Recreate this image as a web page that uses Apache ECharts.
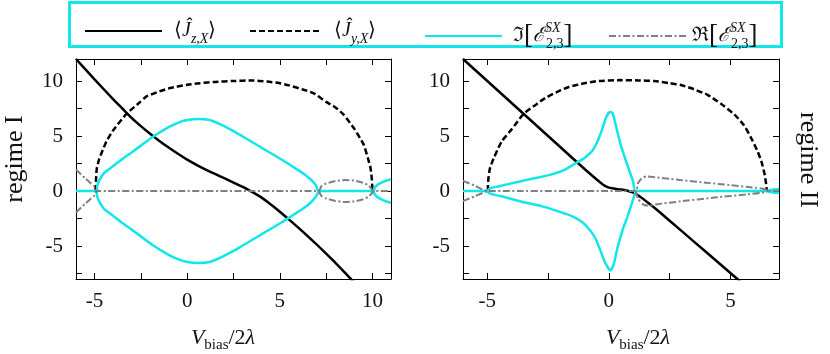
<!DOCTYPE html>
<html>
<head>
<meta charset="utf-8">
<script src="https://cdn.jsdelivr.net/npm/echarts@6/dist/echarts.min.js"></script>
<style>
  html, body { margin: 0; padding: 0; background: #fff; }
  #chart { width: 830px; height: 354px; }
</style>
</head>
<body>
<div id="chart"></div>
<script>
// tick marks and labels
const xTicksLeft = [-5, -2.5, 0, 2.5, 5, 7.5, 10]
const xLabelsLeft = [-5, 0, 5, 10]
const xTicksRight = [-5, -2.5, 0, 2.5, 5]
const xLabelsRight = [-5, 0, 5]
const yTicks = [-7.5, -5, -2.5, 0, 2.5, 5, 7.5, 10]
const yLabels = [-5, 0, 5, 10]

// regime I (left panel)
const jzLeft = [[-6, 12], [-5, 10.15], [-4, 8.35], [-3.5, 7.5], [-3, 6.65], [-2.5, 5.9], [-2, 5.2], [-1.5, 4.55], [-1, 3.95], [-0.5, 3.38], [0, 2.85], [0.5, 2.38], [1, 1.95], [1.5, 1.55], [2, 1.17], [2.5, 0.77], [3, 0.37], [3.5, -0.08], [4, -0.58], [4.5, -1.2], [5, -1.88], [5.5, -2.6], [6, -3.33], [6.5, -4.1], [7, -4.88], [7.5, -5.7], [8, -6.53], [8.5, -7.4], [9, -8.28]]
const jyLeft = [[-4.95, 0], [-4.92, 1.0], [-4.88, 2.0], [-4.75, 2.9], [-4.5, 3.95], [-4.36, 4.5], [-4, 5.5], [-3.28, 7.0], [-2.6, 8.0], [-2.19, 8.6], [-1.5, 9.05], [-0.92, 9.36], [0, 9.65], [0.7, 9.8], [1.5, 9.92], [2.5, 10.0], [3.5, 10.05], [4.3, 9.95], [5, 9.8], [5.5, 9.6], [6.2, 9.25], [6.81, 8.9], [7.5, 8.1], [8, 7.6], [8.44, 6.95], [9, 5.7], [9.52, 4.24], [9.75, 3.0], [9.89, 2.14], [9.97, 1.0], [10, 0]]
const imLeftUp = [[-6, 0], [-4.9, 0], [-4.85, 0.5], [-4.75, 0.95], [-4.5, 1.6], [-4.2, 2.0], [-3.5, 2.9], [-3, 3.5], [-2.4, 4.25], [-1.83, 4.95], [-1, 5.8], [-0.5, 6.2], [0, 6.45], [0.6, 6.55], [1.2, 6.45], [1.8, 6.05], [2.5, 5.45], [3, 4.95], [4, 3.95], [5, 2.95], [5.8, 2.1], [6.3, 1.55], [6.7, 1.0], [6.95, 0.5], [7.1, 0], [10.07, 0], [10.12, 0.3], [10.3, 0.6], [10.6, 0.85], [11, 1.08]]
const imLeftDn = [[-4.9, 0], [-4.85, -0.5], [-4.75, -0.95], [-4.5, -1.6], [-4.2, -2.0], [-3.5, -2.9], [-3, -3.5], [-2.4, -4.25], [-1.83, -4.95], [-1, -5.8], [-0.5, -6.2], [0, -6.45], [0.6, -6.55], [1.2, -6.45], [1.8, -6.05], [2.5, -5.45], [3, -4.95], [4, -3.95], [5, -2.95], [5.8, -2.1], [6.3, -1.55], [6.7, -1.0], [6.95, -0.5], [7.1, 0]]
const imLeftDn2 = [[10.07, 0], [10.12, -0.3], [10.3, -0.6], [10.6, -0.85], [11, -1.08]]
const reLeftUp = [[-6, 1.95], [-5.5, 1.15], [-5.2, 0.7], [-5.0, 0.4], [-4.9, 0], [7.1, 0], [7.25, 0.45], [7.5, 0.68], [8, 0.9], [8.5, 1.0], [9, 0.95], [9.5, 0.75], [9.8, 0.5], [10.07, 0], [11, 0]]
const reLeftDn = [[-6, -1.95], [-5.5, -1.15], [-5.2, -0.7], [-5.0, -0.4], [-4.9, 0]]
const reLeftDn2 = [[7.1, 0], [7.25, -0.45], [7.5, -0.68], [8, -0.9], [8.5, -1.0], [9, -0.95], [9.5, -0.75], [9.8, -0.5], [10.07, 0]]

// regime II (right panel)
const jzRight = [[-6, 12], [-5, 10], [-4, 8], [-3, 6], [-2, 4], [-1, 2], [-0.5, 1.05], [-0.25, 0.6], [-0.05, 0.35], [0.2, 0.22], [0.5, 0.13], [0.8, 0.0], [1.05, -0.2], [1.3, -0.55], [1.6, -1.05], [2, -1.75], [3, -3.65], [4, -5.55], [5, -7.45], [5.5, -8.4]]
const jyRight = [[-4.98, 0], [-4.96, 1.0], [-4.9, 1.98], [-4.75, 2.9], [-4.41, 4.5], [-4, 5.6], [-3.51, 7.0], [-3, 7.85], [-2.62, 8.44], [-2, 9.15], [-1.65, 9.45], [-1, 9.8], [-0.41, 10.0], [0.5, 10.08], [1.2, 10.05], [1.86, 10.0], [2.5, 9.8], [2.96, 9.64], [3.5, 9.25], [4.06, 8.74], [4.6, 7.95], [5.17, 6.94], [5.55, 6.0], [5.85, 4.84], [6.1, 3.7], [6.27, 2.73], [6.4, 1.6], [6.46, 0.8], [6.5, 0]]
const imRightUp = [[-6, 0], [-5.02, 0], [-4.9, 0.22], [-4.7, 0.35], [-4.38, 0.5], [-3.9, 0.75], [-3.42, 0.99], [-2.8, 1.28], [-2.32, 1.53], [-1.8, 1.95], [-1.31, 2.6], [-1.0, 3.0], [-0.69, 3.63], [-0.45, 4.6], [-0.28, 5.6], [-0.1, 6.75], [0.05, 7.18], [0.15, 7.1], [0.25, 6.3], [0.35, 5.4], [0.45, 4.5], [0.55, 3.75], [0.7, 2.75], [0.85, 1.8], [1.0, 0.85], [1.1, 0], [6.5, 0], [6.7, 0.12], [7, 0.18]]
const imRightDn = [[-5.02, 0], [-4.9, -0.22], [-4.7, -0.35], [-4.38, -0.5], [-3.44, -1.05], [-2.8, -1.35], [-2.07, -1.85], [-1.5, -2.3], [-1.1, -2.82], [-0.8, -3.5], [-0.55, -4.32], [-0.35, -5.4], [-0.14, -6.58], [0.07, -7.23], [0.21, -6.58], [0.35, -5.2], [0.48, -4.17], [0.62, -3.2], [0.76, -2.37], [0.95, -1.1], [1.1, 0]]
const imRightDn2 = [[6.5, 0], [6.7, -0.12], [7, -0.18]]
const reRightUp = [[-6, 0.92], [-5.5, 0.47], [-5.02, 0], [1.1, 0], [1.2, 0.7], [1.35, 1.15], [1.55, 1.33], [2, 1.22], [2.5, 1.1], [3, 0.98], [4, 0.76], [5, 0.53], [6, 0.3], [6.3, 0.22], [6.5, 0.1], [6.55, 0], [7, 0]]
const reRightDn = [[-6, -0.92], [-5.5, -0.47], [-5.02, 0]]
const reRightDn2 = [[1.1, 0], [1.2, -0.7], [1.4, -1.2], [1.58, -1.32], [2, -1.2], [3, -0.93], [4.34, -0.6], [5.72, -0.3], [6.3, -0.15], [6.55, 0]]

const FONT = '"Liberation Serif", serif'
const CYAN = '#11e6ea'
const GRAY = '#808080'
const INK = '#111'

const styles = {
  Jz: { color: '#000', width: 2.5, type: 'solid' },
  Jy: { color: '#000', width: 2.5, type: [6, 3] },
  Im: { color: CYAN, width: 2.5, type: 'solid' },
  Re: { color: GRAY, width: 2, type: [7, 2.5, 2, 2.5] }
}

function line(name, data, ax) {
  const s = styles[name]
  return {
    name: name,
    type: 'line',
    xAxisIndex: ax,
    yAxisIndex: ax,
    data: data,
    symbol: 'none',
    smooth: 0.2,
    color: s.color,
    lineStyle: { color: s.color, width: s.width, type: s.type },
    z: { Jz: 2, Jy: 3, Im: 4, Re: 5 }[name]
  }
}

function xAxis(grid, pos, min, max, ticks, labels) {
  return {
    type: 'value', gridIndex: grid, position: pos, min: min, max: max,
    axisLine: { show: true, onZero: false, lineStyle: { color: '#000', width: 1 } },
    axisTick: { show: true, inside: true, length: 6, customValues: ticks, lineStyle: { color: '#000' } },
    axisLabel: {
      show: pos === 'bottom', customValues: labels, margin: 12,
      fontFamily: FONT, fontSize: 21, color: INK
    },
    splitLine: { show: false }
  }
}

function yAxis(grid, pos) {
  return {
    type: 'value', gridIndex: grid, position: pos, min: -8, max: 12,
    axisLine: { show: true, onZero: false, lineStyle: { color: '#000', width: 1 } },
    axisTick: { show: true, inside: true, length: 6, customValues: yTicks, lineStyle: { color: '#000' } },
    axisLabel: {
      show: pos === 'left', customValues: yLabels, margin: 13,
      fontFamily: FONT, fontSize: 21, color: INK
    },
    splitLine: { show: false }
  }
}

const legendNames = {
  Jz: '{g|⟨}{h|Ĵ}{s|z,X}{n|⟩}',
  Jy: '{g|⟨}{h|Ĵ}{s|y,X}{n|⟩}',
  Im: '{k|ℑ}{b|[}{e|ℰ}{p|SX}{r|2,3}{b|]}',
  Re: '{n|ℜ}{b|[}{e|ℰ}{p|SX}{r|2,3}{b|]}'
}

const rich = {
  g: { fontFamily: FONT, fontSize: 20, lineHeight: 30, color: INK, padding: [0, 0, 0, 7] },
  k: { fontFamily: FONT, fontSize: 20, lineHeight: 30, color: INK, padding: [0, 0, 0, 6] },
  n: { fontFamily: FONT, fontSize: 20, lineHeight: 30, color: INK },
  h: { fontFamily: FONT, fontSize: 20, lineHeight: 30, fontStyle: 'italic', color: INK },
  e: { fontFamily: FONT, fontSize: 20, lineHeight: 30, fontStyle: 'italic', color: INK },
  b: { fontFamily: FONT, fontSize: 27, lineHeight: 30, color: INK },
  s: { fontFamily: FONT, fontSize: 14, lineHeight: 16, fontStyle: 'italic', verticalAlign: 'bottom', color: INK },
  r: { fontFamily: FONT, fontSize: 14, lineHeight: 16, verticalAlign: 'bottom', color: INK },
  p: { fontFamily: FONT, fontSize: 14, lineHeight: 16, fontStyle: 'italic', verticalAlign: 'top', width: 1, color: INK }
}

function legend(name, left, width) {
  return {
    data: [name], left: left, top: 21, itemWidth: width, itemHeight: 14,
    padding: 0, selectedMode: false,
    itemStyle: { opacity: 0 },
    formatter: n => legendNames[n],
    textStyle: { rich: rich }
  }
}

const titleRich = {
  i: { fontFamily: FONT, fontSize: 22, fontStyle: 'italic', lineHeight: 30, fill: INK },
  n: { fontFamily: FONT, fontSize: 22, lineHeight: 30, fill: INK },
  s: { fontFamily: FONT, fontSize: 15, lineHeight: 18, verticalAlign: 'bottom', fill: INK }
}

const chart = echarts.init(document.getElementById('chart'))
chart.setOption({
  animation: false,
  backgroundColor: '#fff',
  grid: [
    { left: 76, top: 59, width: 315, height: 220 },
    { left: 463, top: 59, width: 316, height: 220 }
  ],
  xAxis: [
    xAxis(0, 'bottom', -6, 11, xTicksLeft, xLabelsLeft),
    xAxis(0, 'top', -6, 11, xTicksLeft, xLabelsLeft),
    xAxis(1, 'bottom', -6, 7, xTicksRight, xLabelsRight),
    xAxis(1, 'top', -6, 7, xTicksRight, xLabelsRight)
  ],
  yAxis: [yAxis(0, 'left'), yAxis(0, 'right'), yAxis(1, 'left'), yAxis(1, 'right')],
  legend: [
    legend('Jz', 84, 77),
    legend('Jy', 249, 72),
    legend('Im', 424, 77),
    legend('Re', 608, 78)
  ],
  graphic: [
    { type: 'rect', shape: { x: 69.5, y: 2.5, width: 712, height: 44 }, style: { fill: 'none', stroke: CYAN, lineWidth: 3 } },
    { type: 'text', x: 15, y: 159, rotation: Math.PI / 2, style: { text: 'regime I', font: '26px "Liberation Serif"', fill: INK, align: 'center', verticalAlign: 'middle' } },
    { type: 'text', x: 808, y: 160, rotation: -Math.PI / 2, style: { text: 'regime II', font: '26px "Liberation Serif"', fill: INK, align: 'center', verticalAlign: 'middle' } },
    { type: 'text', x: 223, y: 338, style: { text: '{i|V}{s|bias}{n|/2}{i|λ}', rich: titleRich, align: 'center', verticalAlign: 'middle' } },
    { type: 'text', x: 638, y: 338, style: { text: '{i|V}{s|bias}{n|/2}{i|λ}', rich: titleRich, align: 'center', verticalAlign: 'middle' } }
  ],
  series: [
    line('Jz', jzLeft, 0), line('Jy', jyLeft, 0),
    line('Im', imLeftUp, 0), line('Im', imLeftDn, 0), line('Im', imLeftDn2, 0),
    line('Re', reLeftUp, 0), line('Re', reLeftDn, 0), line('Re', reLeftDn2, 0),
    line('Jz', jzRight, 2), line('Jy', jyRight, 2),
    line('Im', imRightUp, 2), line('Im', imRightDn, 2), line('Im', imRightDn2, 2),
    line('Re', reRightUp, 2), line('Re', reRightDn, 2), line('Re', reRightDn2, 2)
  ]
})
</script>
</body>
</html>
